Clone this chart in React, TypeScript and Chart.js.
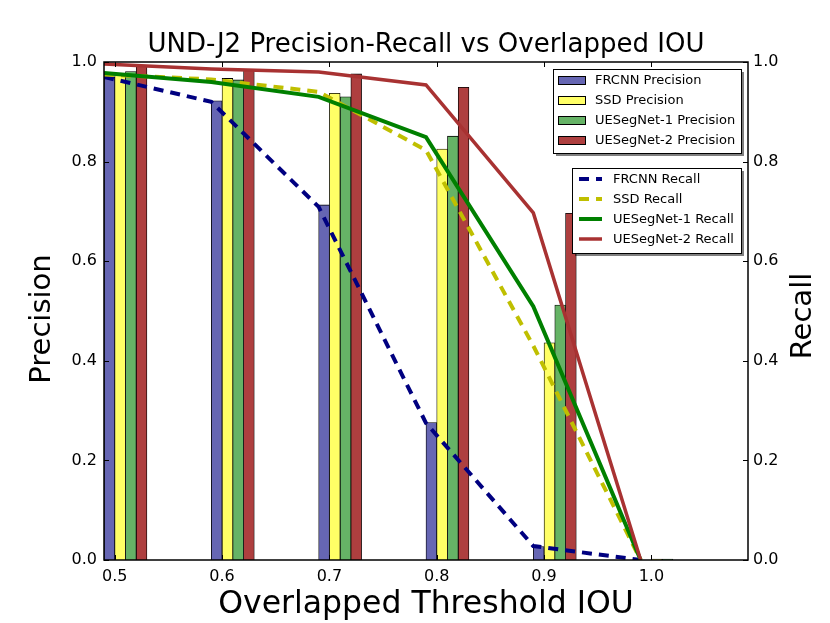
import React, { useEffect, useRef } from 'react';
import { Chart, registerables } from 'chart.js';

Chart.register(...registerables);

// ---------- data ----------
const thresholds = [0.5, 0.6, 0.7, 0.8, 0.9, 1.0];
const xTickLabels = ['0.5', '0.6', '0.7', '0.8', '0.9', '1.0'];
const yTickValues = [0, 0.2, 0.4, 0.6, 0.8, 1.0];

const frcnnPrecision = [0.97, 0.922, 0.713, 0.276, 0.027, 0.0];
const ssdPrecision = [0.975, 0.967, 0.937, 0.825, 0.436, 0.002];
const uesegnet1Precision = [0.981, 0.964, 0.93, 0.851, 0.512, 0.002];
const uesegnet2Precision = [0.991, 0.984, 0.976, 0.949, 0.696, 0.0];

const frcnnRecall = [0.97, 0.92, 0.709, 0.275, 0.028, 0.0];
const ssdRecall = [0.975, 0.965, 0.94, 0.823, 0.43, 0.0];
const uesegnet1Recall = [0.978, 0.96, 0.93, 0.849, 0.509, 0.0];
const uesegnet2Recall = [0.996, 0.986, 0.98, 0.954, 0.697, 0.0];

const BAR_W = 0.01;
const FONT = '"DejaVu Sans", "Liberation Sans", sans-serif';

const barSeries = [
  { label: 'FRCNN Precision', data: frcnnPrecision, color: '#6666b3' },
  { label: 'SSD Precision', data: ssdPrecision, color: '#ffff66' },
  { label: 'UESegNet-1 Precision', data: uesegnet1Precision, color: '#66b366' },
  { label: 'UESegNet-2 Precision', data: uesegnet2Precision, color: '#ae3f3f' },
];

const lineSeries = [
  { label: 'FRCNN Recall', data: frcnnRecall, color: '#000080', dash: [10, 7], width: 4 },
  { label: 'SSD Recall', data: ssdRecall, color: '#bfbf00', dash: [10, 7], width: 4 },
  { label: 'UESegNet-1 Recall', data: uesegnet1Recall, color: '#008000', dash: [] as number[], width: 4 },
  { label: 'UESegNet-2 Recall', data: uesegnet2Recall, color: '#a83232', dash: [] as number[], width: 3.5 },
];

const decorPlugin = {
  id: 'decor',
  afterDraw(chart: any) {
    const { ctx, chartArea: a, scales } = chart;
    ctx.save();
    const seg = (x1: number, y1: number, x2: number, y2: number) => {
      ctx.beginPath();
      ctx.moveTo(x1, y1);
      ctx.lineTo(x2, y2);
      ctx.stroke();
    };
    // inward ticks
    ctx.strokeStyle = '#000';
    ctx.lineWidth = 1;
    ctx.setLineDash([]);
    const TL = 5;
    scales.x.ticks.forEach((t: any) => {
      const px = Math.round(scales.x.getPixelForValue(t.value)) + 0.5;
      seg(px, a.bottom, px, a.bottom - TL);
      seg(px, a.top, px, a.top + TL);
    });
    scales.y.ticks.forEach((t: any) => {
      const py = Math.round(scales.y.getPixelForValue(t.value)) + 0.5;
      seg(a.left, py, a.left + TL, py);
    });
    scales.y2.ticks.forEach((t: any) => {
      const py = Math.round(scales.y2.getPixelForValue(t.value)) + 0.5;
      seg(a.right, py, a.right - TL, py);
    });
    // frame
    ctx.lineWidth = 1.5;
    ctx.strokeRect(a.left, a.top, a.right - a.left, a.bottom - a.top);

    // legends
    const drawBox = (x: number, y: number, w: number, h: number) => {
      ctx.fillStyle = 'rgba(0,0,0,0.5)';
      ctx.fillRect(x + 3, y + 3, w, h);
      ctx.fillStyle = '#fff';
      ctx.fillRect(x, y, w, h);
      ctx.lineWidth = 1;
      ctx.strokeStyle = '#000';
      ctx.strokeRect(x + 0.5, y + 0.5, w, h);
    };
    ctx.font = `13px ${FONT}`;
    ctx.textBaseline = 'middle';
    ctx.textAlign = 'left';

    // legend 1 (bars)
    const l1x = a.right - 195, l1y = a.top + 7;
    drawBox(l1x, l1y, 188, 84);
    barSeries.forEach((s, i) => {
      const cy = l1y + 11 + i * 20;
      ctx.fillStyle = s.color;
      ctx.fillRect(l1x + 5, cy - 4, 27, 8);
      ctx.strokeStyle = '#000';
      ctx.lineWidth = 1;
      ctx.strokeRect(l1x + 5.5, cy - 3.5, 27, 8);
      ctx.fillStyle = '#000';
      ctx.fillText(s.label, l1x + 42, cy + 1);
    });

    // legend 2 (lines)
    const l2x = a.right - 176, l2y = a.top + 106;
    drawBox(l2x, l2y, 169, 85);
    lineSeries.forEach((s, i) => {
      const cy = l2y + 11 + i * 20;
      ctx.strokeStyle = s.color;
      ctx.lineWidth = s.width;
      ctx.setLineDash(s.dash);
      seg(l2x + 7, cy, l2x + 30, cy);
      ctx.setLineDash([]);
      ctx.fillStyle = '#000';
      ctx.fillText(s.label, l2x + 41, cy + 1);
    });

    // titles
    ctx.fillStyle = '#000';
    ctx.textAlign = 'center';
    ctx.textBaseline = 'middle';
    const cx = (a.left + a.right) / 2;
    const cyMid = (a.top + a.bottom) / 2;
    ctx.font = `26px ${FONT}`;
    ctx.fillText('UND-J2 Precision-Recall vs Overlapped IOU', cx, a.top - 17);
    ctx.font = `31.5px ${FONT}`;
    ctx.fillText('Overlapped Threshold IOU', cx, a.bottom + 45);
    ctx.font = `29px ${FONT}`;
    ctx.save();
    ctx.translate(42, cyMid + 8);
    ctx.rotate(-Math.PI / 2);
    ctx.fillText('Precision', 0, 0);
    ctx.restore();
    ctx.save();
    ctx.translate(a.right + 55, cyMid + 5);
    ctx.rotate(-Math.PI / 2);
    ctx.fillText('Recall', 0, 0);
    ctx.restore();

    ctx.restore();
  },
};

export default function App() {
  const ref = useRef<HTMLCanvasElement>(null);

  useEffect(() => {
    const canvas = ref.current;
    if (!canvas) return;

    const datasets: any[] = [
      ...barSeries.map((s, k) => ({
        type: 'bar',
        label: s.label,
        data: thresholds.map((t, i) => ({ x: t + BAR_W * (k + 0.5), y: s.data[i] })),
        backgroundColor: s.color,
        borderColor: '#000',
        borderWidth: 0.8,
        grouped: false,
        barPercentage: 1,
        categoryPercentage: 1,
        xAxisID: 'x',
        yAxisID: 'y',
        order: 10,
      })),
      ...lineSeries.map((s, k) => ({
        type: 'line',
        label: s.label,
        data: thresholds.map((t, i) => ({ x: t, y: s.data[i] })),
        borderColor: s.color,
        backgroundColor: s.color,
        borderWidth: s.width,
        borderDash: s.dash,
        pointRadius: 0,
        fill: false,
        tension: 0,
        xAxisID: 'x',
        yAxisID: 'y2',
        order: 4 - k,
      })),
    ];

    const tickFont = { family: FONT, size: 16 };

    const chart = new Chart(canvas, {
      type: 'bar',
      data: { datasets },
      options: {
        animation: false,
        responsive: false,
        layout: { padding: { top: 62, left: 0, right: 0, bottom: 0 } },
        plugins: {
          legend: { display: false },
          title: { display: false },
          tooltip: { enabled: false },
        },
        scales: {
          x: {
            type: 'linear',
            position: 'bottom',
            min: 0.5,
            max: 1.1,
            offset: false,
            grid: { display: false, drawTicks: false },
            border: { display: false },
            afterBuildTicks: (scale: any) => {
              scale.ticks = thresholds.map((t) => ({ value: t + BAR_W }));
            },
            afterFit: (scale: any) => {
              scale.height = 63;
            },
            ticks: {
              autoSkip: false,
              maxRotation: 0,
              padding: 7,
              color: '#000',
              font: tickFont,
              callback: (_v: any, i: number) => xTickLabels[i],
            },
          },
          y: {
            type: 'linear',
            position: 'left',
            min: 0,
            max: 1,
            grid: { display: false, drawTicks: false },
            border: { display: false },
            afterBuildTicks: (scale: any) => {
              scale.ticks = yTickValues.map((v) => ({ value: v }));
            },
            afterFit: (scale: any) => {
              scale.width = 104;
            },
            ticks: {
              padding: 7,
              color: '#000',
              font: tickFont,
              callback: (v: any) => Number(v).toFixed(1),
            },
          },
          y2: {
            type: 'linear',
            position: 'right',
            min: 0,
            max: 1,
            grid: { display: false, drawTicks: false },
            border: { display: false },
            afterBuildTicks: (scale: any) => {
              scale.ticks = yTickValues.map((v) => ({ value: v }));
            },
            afterFit: (scale: any) => {
              scale.width = 82;
            },
            ticks: {
              padding: 5,
              color: '#000',
              font: tickFont,
              callback: (v: any) => Number(v).toFixed(1),
            },
          },
        },
      } as any,
      plugins: [decorPlugin],
    });

    return () => chart.destroy();
  }, []);

  return (
    <div style={{ position: 'absolute', left: 0, top: 0, width: 830, height: 623, background: '#fff' }}>
      <canvas ref={ref} width={830} height={623} />
    </div>
  );
}
